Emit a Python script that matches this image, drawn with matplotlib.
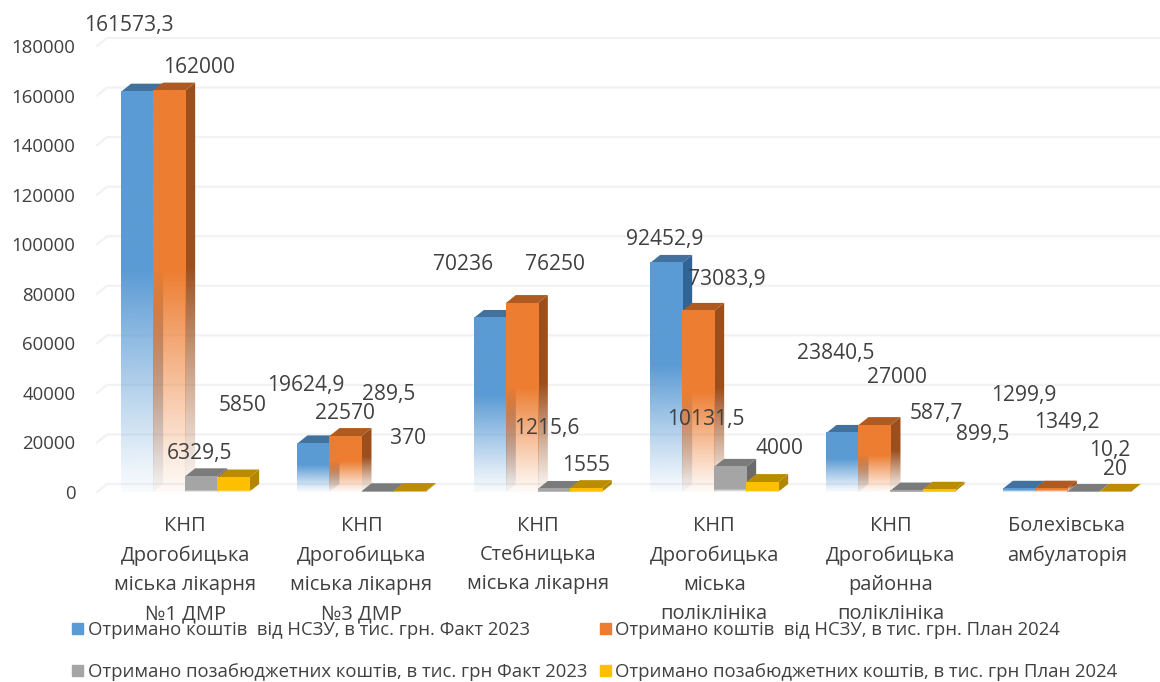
#!/usr/bin/env python3
import numpy as np
import matplotlib
matplotlib.use("Agg")
import matplotlib.pyplot as plt
from matplotlib.colors import to_rgb
from matplotlib.patches import Patch, Polygon

W, H = 1160, 682
plt.rcParams["font.family"] = ["Open Sans", "DejaVu Sans"]
TEXT = "#404040"

categories = [
    "КНП\nДрогобицька\nміська лікарня\n№1 ДМР",
    "КНП\nДрогобицька\nміська лікарня\n№3 ДМР",
    "КНП\nСтебницька\nміська лікарня",
    "КНП\nДрогобицька\nміська\nполіклініка",
    "КНП\nДрогобицька\nрайонна\nполіклініка",
    "Болехівська\nамбулаторія",
]
nszu_fact = [161573.3, 19624.9, 70236, 92452.9, 23840.5, 1299.9]
nszu_plan = [162000, 22570, 76250, 73083.9, 27000, 1349.2]
extra_fact = [6329.5, 289.5, 1215.6, 10131.5, 587.7, 10.2]
extra_plan = [5850, 370, 1555, 4000, 899.5, 20]
series_names = [
    "Отримано коштів  від НСЗУ, в тис. грн. Факт 2023",
    "Отримано коштів  від НСЗУ, в тис. грн. План 2024",
    "Отримано позабюджетних коштів, в тис. грн Факт 2023",
    "Отримано позабюджетних коштів, в тис. грн План 2024",
]
front_colors = ["#5b9bd5", "#ed7d31", "#a5a5a5", "#ffc000"]
side_colors = ["#2f6496", "#9c4f1c", "#6b6b6b", "#b38600"]
top_colors = ["#41719c", "#ae5a21", "#7b7b7b", "#bc8c00"]

# label texts and where they sit in the picture (pixels, centre)
label_texts = [
    ["161573,3", "19624,9", "70236", "92452,9", "23840,5", "1299,9"],
    ["162000", "22570", "76250", "73083,9", "27000", "1349,2"],
    ["6329,5", "289,5", "1215,6", "10131,5", "587,7", "10,2"],
    ["5850", "370", "1555", "4000", "899,5", "20"],
]
label_pos = [
    [(129, 23), (306, 383), (463, 262), (665, 237), (836, 351), (1024, 393)],
    [(199, 65), (345, 411), (555, 262), (727, 277), (897, 375), (1067, 420)],
    [(200, 451), (389, 392), (547, 426), (706, 417), (936, 411), (1110, 448)],
    [(243, 403), (408, 436), (586, 463), (779, 446), (983, 432), (1115, 467)],
]

fig = plt.figure(figsize=(W / 100, H / 100), dpi=100)
ax = fig.add_axes([97 / W, 1 - 492 / H, (1155 - 97) / W, (492 - 46) / H])
ax.set_xlim(-0.5, 5.5)
ax.set_ylim(0, 180000)

BAR_W = 32 / 176.3
DX = 10 / 176.3
DY = 8 / 446 * 180000


def fade_img(color, solid_from=0.5, n=128):
    # top of the bar solid, bottom fades out through alpha
    t = np.linspace(1, 0, n)  # 1 = top of bar
    a = np.clip(t / solid_from, 0, 1) ** 1.1
    a = 0.04 + 0.96 * a
    img = np.ones((n, 1, 4))
    img[:, 0, :3] = to_rgb(color)
    img[:, 0, 3] = a
    return img


def draw_bar(x0, val, si):
    x1 = x0 + BAR_W
    solid = 0.55 if si < 2 else 0.12
    z = 3 + x0 * 0.01
    # side face
    side = Polygon([(x1, 0), (x1 + DX, DY), (x1 + DX, val + DY), (x1, val)],
                   closed=True, transform=ax.transData, fc="none", ec="none")
    ax.add_patch(side)
    im = ax.imshow(fade_img(side_colors[si], solid), extent=(x1, x1 + DX, 0, val + DY),
                   aspect="auto", interpolation="bilinear", zorder=z)
    im.set_clip_path(side)
    # top face
    ax.fill([x0, x0 + DX, x1 + DX, x1], [val, val + DY, val + DY, val],
            color=top_colors[si], lw=0, zorder=z)
    # front face, the neighbour's side still shows through the faded part
    ax.imshow(fade_img(front_colors[si], solid), extent=(x0, x1, 0, val),
              aspect="auto", interpolation="bilinear", zorder=z + 0.001)


ticks = np.arange(0, 180001, 20000)
for t in ticks:
    ax.plot([-0.5, -0.5 + DX, 5.53], [t, t + DY, t + DY], color="#f2f2f2", lw=1.6,
            clip_on=False, zorder=1)

all_series = [nszu_fact, nszu_plan, extra_fact, extra_plan]
for ci in range(len(categories)):
    for si, vals in enumerate(all_series):
        draw_bar(ci - 2 * BAR_W + si * BAR_W, vals[ci], si)

ax.set_xlim(-0.5, 5.5)
ax.set_ylim(0, 180000)
for s in ax.spines.values():
    s.set_visible(False)
ax.patch.set_visible(False)
ax.set_yticks(ticks)
ax.set_yticklabels([str(t) for t in ticks], fontsize=13.4, color=TEXT)
ax.set_xticks(range(len(categories)))
ax.set_xticklabels(categories, fontsize=14.4, color=TEXT, linespacing=1.62)
ax.tick_params(axis="y", length=0, pad=15.5)
ax.tick_params(axis="x", length=0, pad=17)

for row_t, row_p in zip(label_texts, label_pos):
    for txt, (px, py) in zip(row_t, row_p):
        fig.text(px / W, 1 - (py + 2.5) / H, txt, fontsize=15.1, color=TEXT,
                 ha="center", va="center", zorder=10)

# column-first fill gives the row order of the original
order = [0, 2, 1, 3]
handles = [Patch(color=front_colors[i], label=series_names[i]) for i in order]
fig.legend(handles=handles, ncols=2, loc="lower left", bbox_to_anchor=(57 / W, -14 / H),
           frameon=False, fontsize=13.35, labelcolor=TEXT, handlelength=0.6,
           handleheight=0.55, handletextpad=0.25, columnspacing=0.68, labelspacing=1.3,
           borderpad=0.3)

fig.savefig("out.png", dpi=100)
